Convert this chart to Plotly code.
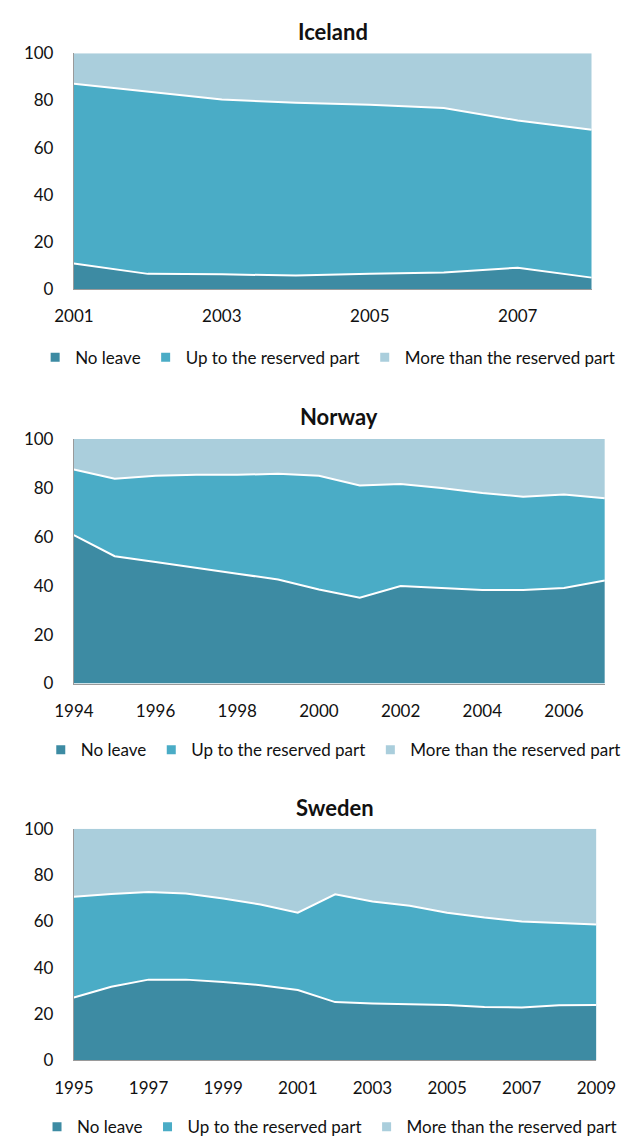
import plotly.graph_objects as go

# ---------------- data ----------------
series_names = ["No leave", "Up to the reserved part", "More than the reserved part"]
colors = ["#3D8BA3", "#4AACC6", "#AACEDC"]

iceland_years = [2001, 2002, 2003, 2004, 2005, 2006, 2007, 2008]
iceland_no_leave = [10.8, 6.4, 6.2, 5.7, 6.5, 7.0, 9.0, 4.8]
iceland_up_to = [76.3, 77.5, 74.2, 73.3, 71.7, 69.8, 62.5, 62.8]
iceland_more = [12.9, 16.1, 19.6, 21.0, 21.8, 23.2, 28.5, 32.4]

norway_years = list(range(1994, 2008))
norway_no_leave = [60.7, 52.1, 49.7, 47.2, 44.9, 42.6, 38.5, 35.1, 39.9, 39.1, 38.3, 38.3, 39.1, 42.2]
norway_up_to = [26.9, 31.7, 35.3, 38.2, 40.5, 43.2, 46.5, 45.9, 41.7, 40.9, 39.7, 38.1, 38.2, 33.6]
norway_more = [12.4, 16.2, 15.0, 14.6, 14.6, 14.2, 15.0, 19.0, 18.4, 20.0, 22.0, 23.6, 22.7, 24.2]

sweden_years = list(range(1995, 2010))
sweden_no_leave = [27.2, 31.8, 34.9, 34.9, 33.9, 32.5, 30.4, 25.2, 24.6, 24.3, 23.9, 23.1, 22.9, 23.8, 24.0]
sweden_up_to = [43.5, 40.1, 37.8, 37.2, 36.0, 34.8, 33.4, 46.5, 44.0, 42.5, 39.9, 38.6, 37.1, 35.5, 34.7]
sweden_more = [29.3, 28.1, 27.3, 27.9, 30.1, 32.7, 36.2, 28.3, 31.4, 33.2, 36.2, 38.3, 40.0, 40.7, 41.3]

y_ticks = [0, 20, 40, 60, 80, 100]

panels = [
    ("Iceland", iceland_years, [iceland_no_leave, iceland_up_to, iceland_more]),
    ("Norway", norway_years, [norway_no_leave, norway_up_to, norway_more]),
    ("Sweden", sweden_years, [sweden_no_leave, sweden_up_to, sweden_more]),
]

# ---------------- layout geometry ----------------
W, H = 629, 1141
FONT = "Lato"
TXT = "#111111"
x_domains = [[49 / W, 602 / W], [49 / W, 616 / W], [49 / W, 607 / W]]
y_domains = [[1 - 275 / H, 1 - 35 / H], [1 - 677 / H, 1 - 428 / H], [1 - 1061 / H, 1 - 825 / H]]
title_y = [13, 405, 803]
legend_y = [345, 745, 1129]
legend_x = [320, 326, 322]

fig = go.Figure()
layout = dict(
    width=W, height=H, autosize=False,
    margin=dict(l=0, r=0, t=0, b=0),
    paper_bgcolor="white", plot_bgcolor="white",
    font=dict(family=FONT, size=17, color=TXT),
    annotations=[],
)

for i, (name, years, vals) in enumerate(panels):
    sfx = "" if i == 0 else str(i + 1)
    xa, ya = "x" + sfx, "y" + sfx
    lg = "legend" + sfx
    for j, s in enumerate(series_names):
        fig.add_trace(go.Scatter(
            x=years, y=vals[j], xaxis=xa, yaxis=ya,
            mode="lines", stackgroup="s" + str(i),
            line=dict(color="white", width=2 if j < 2 else 0),
            fillcolor=colors[j], showlegend=False, legend=lg,
            hoverinfo="x+y+name", name=s,
        ))
    for j, s in enumerate(series_names):
        fig.add_trace(go.Scatter(
            x=[None], y=[None], xaxis=xa, yaxis=ya, mode="markers",
            marker=dict(symbol="square", size=9, color=colors[j]),
            name=s, legend=lg, showlegend=True,
        ))
    layout["xaxis" + sfx] = dict(
        domain=x_domains[i], anchor=ya, range=[years[0], years[-1]],
        tick0=years[0], dtick=2, showgrid=False, zeroline=False,
        showline=True, linecolor="#9a9a9a", linewidth=1,
        ticks="outside", ticklen=12, tickcolor="rgba(0,0,0,0)",
        tickfont=dict(family=FONT, size=17, color=TXT),
    )
    layout["yaxis" + sfx] = dict(
        domain=y_domains[i], anchor=xa, range=[0, 100],
        tickvals=y_ticks, showgrid=False, zeroline=False,
        showline=True, linecolor="#9a9a9a", linewidth=1,
        ticks="outside", ticklen=16, tickcolor="rgba(0,0,0,0)",
        tickfont=dict(family=FONT, size=17, color=TXT),
    )
    layout[lg] = dict(
        orientation="h", xref="paper", yref="paper",
        x=legend_x[i] / W, xanchor="center",
        y=1 - legend_y[i] / H, yanchor="middle",
        font=dict(family=FONT, size=17, color=TXT),
        itemwidth=30, traceorder="normal", tracegroupgap=0,
        bgcolor="rgba(0,0,0,0)",
    )
    layout["annotations"].append(dict(
        text="<b>" + name + "</b>", xref="paper", yref="paper",
        x=(x_domains[i][0] + x_domains[i][1]) / 2, y=1 - title_y[i] / H,
        xanchor="center", yanchor="middle", showarrow=False,
        font=dict(family=FONT, size=22, color=TXT),
    ))

fig.update_layout(**layout)
fig.write_html("out.html")
